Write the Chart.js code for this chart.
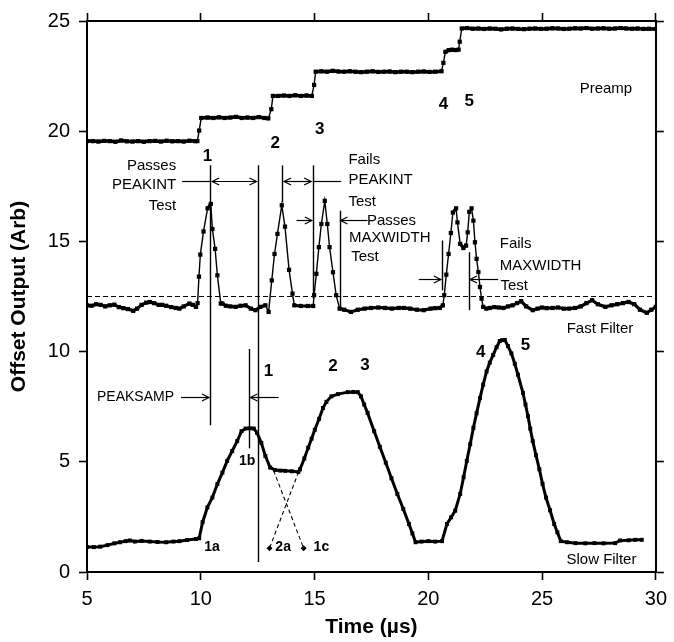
<!DOCTYPE html>
<html><head><meta charset="utf-8">
<script src="https://cdn.jsdelivr.net/npm/chart.js@4/dist/chart.umd.min.js"></script>
<style>html,body{margin:0;padding:0;background:#fff}canvas{display:block}</style>
</head><body>
<canvas id="c" width="674" height="642"></canvas>
<script>
// ---------- data ----------
const preampT = [5.0,5.25,5.5,5.75,6.0,6.25,6.5,6.75,7.0,7.25,7.5,7.75,8.0,8.25,8.5,8.75,9.0,9.25,9.5,9.75,9.85,9.93,10.02,10.3,10.55,10.8,11.05,11.3,11.55,11.8,12.05,12.3,12.55,12.8,12.97,13.1,13.17,13.4,13.65,13.9,14.15,14.4,14.65,14.88,14.98,15.05,15.3,15.55,15.8,16.05,16.3,16.55,16.8,17.05,17.3,17.55,17.8,18.05,18.3,18.55,18.8,19.05,19.3,19.55,19.8,20.05,20.3,20.58,20.66,20.75,20.9,21.05,21.2,21.33,21.38,21.47,21.7,21.95,22.2,22.45,22.7,22.95,23.2,23.45,23.7,23.95,24.2,24.45,24.7,24.95,25.2,25.45,25.7,25.95,26.2,26.45,26.7,26.95,27.2,27.45,27.7,27.95,28.2,28.45,28.7,28.95,29.2,29.45,29.7,30.0];
const preampV = [19.55,19.55,19.53,19.56,19.55,19.52,19.58,19.54,19.53,19.55,19.52,19.55,19.56,19.53,19.57,19.54,19.55,19.53,19.57,19.55,19.55,20.03,20.6,20.62,20.6,20.63,20.6,20.62,20.65,20.6,20.62,20.6,20.64,20.6,20.58,21.0,21.6,21.6,21.62,21.6,21.63,21.6,21.62,21.6,22.1,22.7,22.72,22.7,22.74,22.71,22.7,22.72,22.7,22.68,22.7,22.72,22.69,22.7,22.71,22.68,22.7,22.7,22.68,22.7,22.71,22.69,22.7,22.72,23.1,23.6,23.68,23.7,23.68,23.7,24.06,24.66,24.68,24.65,24.66,24.64,24.66,24.65,24.62,24.65,24.66,24.64,24.63,24.65,24.66,24.64,24.65,24.67,24.66,24.64,24.65,24.67,24.66,24.68,24.65,24.66,24.67,24.65,24.66,24.68,24.66,24.65,24.66,24.64,24.65,24.64];

const fastT = [5.0,5.2,5.4,5.6,5.8,6.0,6.2,6.4,6.6,6.8,7.03,7.2,7.4,7.6,7.76,7.95,8.15,8.3,8.48,8.7,8.9,9.06,9.25,9.5,9.65,9.79,9.86,9.92,9.98,10.12,10.3,10.44,10.51,10.63,10.73,10.88,10.95,11.1,11.3,11.53,11.75,11.97,12.2,12.4,12.62,12.84,12.98,13.12,13.24,13.37,13.56,13.7,13.88,14.03,14.11,14.4,14.7,14.94,14.98,15.08,15.19,15.3,15.45,15.56,15.66,15.81,15.95,16.1,16.3,16.6,16.9,17.2,17.48,17.8,18.1,18.4,18.7,18.93,19.2,19.5,19.8,20.1,20.3,20.5,20.64,20.7,20.79,20.89,20.99,21.08,21.22,21.28,21.4,21.54,21.66,21.73,21.8,21.9,21.98,22.05,22.12,22.2,22.27,22.34,22.41,22.55,22.7,22.9,23.1,23.3,23.5,23.7,23.9,24.08,24.3,24.59,24.8,25.0,25.2,25.46,25.7,25.95,26.19,26.45,26.7,26.95,27.2,27.45,27.78,28.05,28.3,28.55,28.8,29.05,29.3,29.6,29.8,30.0];
const fastV = [12.1,12.08,12.15,12.12,12.05,12.1,12.13,12.02,11.97,11.93,11.85,11.95,12.12,12.22,12.25,12.2,12.12,12.12,12.08,12.02,11.98,11.95,12.05,12.18,12.12,12.03,12.2,13.4,14.4,15.45,16.5,16.7,15.56,14.66,13.46,12.18,12.18,12.08,12.05,12.03,12.08,12.1,11.95,11.88,12.03,12.1,11.8,13.23,14.43,15.34,16.64,15.67,13.71,12.63,12.1,12.07,12.07,12.07,12.56,13.53,14.74,15.79,16.84,15.79,14.74,13.6,12.56,11.95,11.9,11.8,11.9,11.95,11.98,12.0,11.98,11.95,11.98,11.98,11.95,11.9,11.88,11.95,11.97,11.98,12.1,12.56,13.49,14.43,15.38,16.31,16.5,15.86,14.89,14.7,14.81,15.41,16.34,16.5,15.94,14.96,14.21,13.61,12.93,12.4,12.03,11.95,11.98,12.02,12.0,11.98,12.05,12.1,12.2,12.29,12.05,11.88,11.95,12.0,11.97,11.98,12.0,11.95,11.95,11.98,12.05,12.2,12.33,12.15,12.03,12.1,12.15,12.2,12.25,12.15,11.9,11.76,11.9,12.03];

const slowT = [5.0,5.3,5.58,5.9,6.2,6.45,6.7,6.88,7.1,7.4,7.76,8.1,8.48,8.8,9.06,9.4,9.79,9.93,10.08,10.29,10.51,10.73,10.95,11.16,11.38,11.6,11.79,11.97,12.15,12.33,12.47,12.66,12.84,13.05,13.27,13.5,13.71,14.0,14.29,14.36,14.55,14.72,14.87,15.01,15.2,15.37,15.52,15.74,16.03,16.46,16.7,16.9,17.04,17.18,17.33,17.62,17.87,18.13,18.38,18.64,18.9,19.15,19.3,19.44,19.7,20.0,20.3,20.6,20.82,21.0,21.18,21.4,21.55,21.69,21.84,21.98,22.12,22.27,22.41,22.56,22.7,22.85,23.0,23.14,23.25,23.36,23.5,23.65,23.8,23.94,24.16,24.27,24.38,24.48,24.59,24.73,24.88,25.02,25.17,25.35,25.53,25.67,25.82,26.1,26.47,26.9,27.3,27.7,28.21,28.43,28.8,29.1,29.38];
const slowV = [1.13,1.13,1.15,1.22,1.3,1.35,1.4,1.43,1.38,1.41,1.38,1.36,1.35,1.38,1.4,1.45,1.5,1.53,2.26,2.93,3.38,3.99,4.51,5.04,5.49,5.94,6.39,6.51,6.52,6.51,6.32,5.86,5.26,4.74,4.63,4.6,4.59,4.57,4.54,4.66,5.15,5.64,6.05,6.45,6.95,7.44,7.72,7.97,8.07,8.16,8.17,8.16,7.97,7.6,7.22,6.39,5.68,4.96,4.25,3.54,2.86,2.18,1.75,1.35,1.38,1.4,1.38,1.4,2.18,2.48,2.78,3.54,4.3,5.04,5.8,6.54,7.2,7.89,8.5,9.1,9.5,9.85,10.2,10.48,10.52,10.53,10.25,9.92,9.45,8.95,8.12,7.6,7.07,6.5,5.94,5.3,4.66,4.0,3.38,2.8,2.18,1.8,1.4,1.35,1.31,1.3,1.31,1.3,1.31,1.43,1.44,1.46,1.46];

const thresholdT = [5, 30];
const thresholdV = [12.5, 12.5];
const tail1cT = [13.2, 14.52];  const tail1cV = [4.6, 1.08];
const tail2aT = [14.3, 13.02];  const tail2aV = [4.54, 1.08];

const xTicks = [5, 10, 15, 20, 25, 30];
const yTicks = [0, 5, 10, 15, 20, 25];

// annotation geometry (data units)
const vLines = [[10.4,18.45,6.66],[12.51,18.45,0.45],[13.59,18.45,16.77],[14.92,18.45,12.4],[16.1,16.39,12.03],[20.6,15.04,12.78],[21.8,14.51,11.88],[12.14,10.12,5.61]];
const hLines = [[9.18,10.4,17.74,0,0],[10.5,12.45,17.74,1,1],[13.66,14.85,17.74,1,1],[14.92,16.17,17.74,0,0],[14.21,14.88,15.98,0,1],[16.14,17.33,15.98,1,0],[19.58,20.55,13.3,0,1],[21.83,23.07,13.3,1,0],[9.13,10.36,7.92,0,1],[12.18,13.42,7.92,1,0]];
const labels = [
 ['Passes',8.92,18.42,'right','n'],['PEAKINT',8.92,17.58,'right','n'],['Test',8.92,16.6,'right','n'],
 ['Fails',16.49,18.72,'left','n'],['PEAKINT',16.49,17.77,'left','n'],['Test',16.49,16.81,'left','n'],
 ['Passes',17.3,15.92,'left','n'],['MAXWIDTH',16.51,15.14,'left','n'],['Test',16.61,14.29,'left','n'],
 ['Fails',23.14,14.89,'left','n'],['MAXWIDTH',23.14,13.91,'left','n'],['Test',23.17,12.98,'left','n'],
 ['Preamp',26.65,21.91,'left','n'],['Fast Filter',26.08,11.05,'left','n'],['Slow Filter',26.07,0.56,'left','n'],
 ['PEAKSAMP',5.44,7.92,'left','s'],
 ['1',10.29,18.85,'center','b'],['2',13.27,19.47,'center','b'],['3',15.23,20.07,'center','b'],['4',20.67,21.2,'center','b'],['5',21.8,21.35,'center','b'],
 ['1',12.98,9.1,'center','b'],['2',15.81,9.32,'center','b'],['3',17.22,9.4,'center','b'],['4',22.3,9.97,'center','b'],['5',24.27,10.3,'center','b'],
 ['1a',10.49,1.13,'center','sb'],['1b',12.04,5.04,'center','sb'],['2a',13.62,1.13,'center','sb'],['1c',15.3,1.13,'center','sb']
];

const pts = (T, V) => T.map((t, i) => ({x: t, y: V[i]}));
const FONT = "'Liberation Sans', Arial, Helvetica, sans-serif";
const fonts = {n: '15px ' + FONT, s: '14px ' + FONT, b: 'bold 17px ' + FONT, sb: 'bold 14px ' + FONT};

function steepWidth(thin, thick) {
  return ctx => {
    const dx = Math.abs(ctx.p1.x - ctx.p0.x), dy = Math.abs(ctx.p1.y - ctx.p0.y);
    return dy > 1.5 * dx ? thin : thick;
  };
}

const annot = {
  id: 'annot',
  afterDatasetsDraw(chart) {
    const c = chart.ctx, xs = chart.scales.x, ys = chart.scales.y;
    const X = v => xs.getPixelForValue(v), Y = v => ys.getPixelForValue(v);
    c.save();
    c.strokeStyle = '#000'; c.fillStyle = '#000'; c.lineWidth = 1.4;
    vLines.forEach(([x, y1, y2]) => {
      c.beginPath(); c.moveTo(Math.round(X(x)) + 0.5, Y(y1)); c.lineTo(Math.round(X(x)) + 0.5, Y(y2)); c.stroke();
    });
    c.lineWidth = 1.2;
    const head = (x, y, dir) => {
      c.beginPath(); c.moveTo(x - dir * 7, y - 3.5); c.lineTo(x, y); c.lineTo(x - dir * 7, y + 3.5); c.stroke();
    };
    hLines.forEach(([x1, x2, y, h1, h2]) => {
      const px1 = X(x1), px2 = X(x2), py = Math.round(Y(y)) + 0.5;
      c.beginPath(); c.moveTo(px1, py); c.lineTo(px2, py); c.stroke();
      if (h1) head(px1, py, -1);
      if (h2) head(px2, py, 1);
    });
    c.textBaseline = 'middle';
    labels.forEach(([t, x, y, al, f]) => {
      c.font = fonts[f]; c.textAlign = al; c.fillText(t, X(x), Y(y));
    });
    c.restore();
  }
};

const axisCommon = {
  type: 'linear', min: 5, max: 30,
  border: {display: true, color: '#000', width: 2},
  grid: {drawOnChartArea: false, drawTicks: true, tickLength: 8, tickColor: '#000', tickWidth: 1.6}
};

new Chart(document.getElementById('c'), {
  type: 'scatter',
  data: {
    datasets: [
      {data: pts(preampT, preampV), showLine: true, borderColor: '#000', backgroundColor: '#000',
       pointStyle: 'rect', pointRadius: 3, pointBorderWidth: 0, borderWidth: 3.5,
       segment: {borderWidth: steepWidth(1.4, 3.5)}},
      {data: pts(fastT, fastV), showLine: true, borderColor: '#000', backgroundColor: '#000',
       pointStyle: 'rect', pointRadius: 3, pointBorderWidth: 0, borderWidth: 3.2,
       segment: {borderWidth: steepWidth(1.4, 3.2)}},
      {data: pts(slowT, slowV), showLine: true, borderColor: '#000', backgroundColor: '#000',
       pointStyle: 'rect', pointRadius: 2.8, pointBorderWidth: 0, borderWidth: 3},
      {data: pts(thresholdT, thresholdV), showLine: true, borderColor: '#000', borderWidth: 1.2,
       borderDash: [5, 3], pointRadius: 0},
      {data: pts(tail1cT, tail1cV), showLine: true, borderColor: '#000', backgroundColor: '#000', borderWidth: 1.1,
       borderDash: [4, 3], pointStyle: 'rectRot', pointRadius: c => c.dataIndex === 1 ? 3 : 0, pointBorderWidth: 0},
      {data: pts(tail2aT, tail2aV), showLine: true, borderColor: '#000', backgroundColor: '#000', borderWidth: 1.1,
       borderDash: [4, 3], pointStyle: 'rectRot', pointRadius: c => c.dataIndex === 1 ? 3 : 0, pointBorderWidth: 0}
    ]
  },
  options: {
    responsive: false, animation: false, events: [],
    layout: {padding: 0},
    plugins: {legend: {display: false}, tooltip: {enabled: false}},
    scales: {
      x: Object.assign({}, axisCommon, {
        position: 'bottom',
        afterBuildTicks: s => { s.ticks = xTicks.map(v => ({value: v})); },
        ticks: {color: '#000', font: {family: FONT, size: 20}, padding: 7, maxRotation: 0, autoSkip: false},
        title: {display: true, text: 'Time (\u00b5s)', color: '#000', font: {family: FONT, size: 21, weight: 'bold'}, padding: {top: 0, bottom: 2}},
        afterFit: s => { s.height = 70; }
      }),
      x2: Object.assign({}, axisCommon, {
        position: 'top',
        afterBuildTicks: s => { s.ticks = xTicks.map(v => ({value: v})); },
        ticks: {display: false},
        afterFit: s => { s.height = 17; }
      }),
      y: Object.assign({}, axisCommon, {
        position: 'left', min: 0, max: 25,
        afterBuildTicks: s => { s.ticks = yTicks.map(v => ({value: v})); },
        ticks: {color: '#000', font: {family: FONT, size: 20}, padding: 9},
        title: {display: true, text: 'Offset Output (Arb)', color: '#000', font: {family: FONT, size: 21, weight: 'bold'}, padding: {top: 7, bottom: 0}},
        afterFit: s => { s.width = 87; }
      }),
      y2: Object.assign({}, axisCommon, {
        position: 'right', min: 0, max: 25,
        afterBuildTicks: s => { s.ticks = yTicks.map(v => ({value: v})); },
        ticks: {display: false},
        afterFit: s => { s.width = 13; }
      })
    }
  },
  plugins: [annot]
});
</script>
</body></html>
